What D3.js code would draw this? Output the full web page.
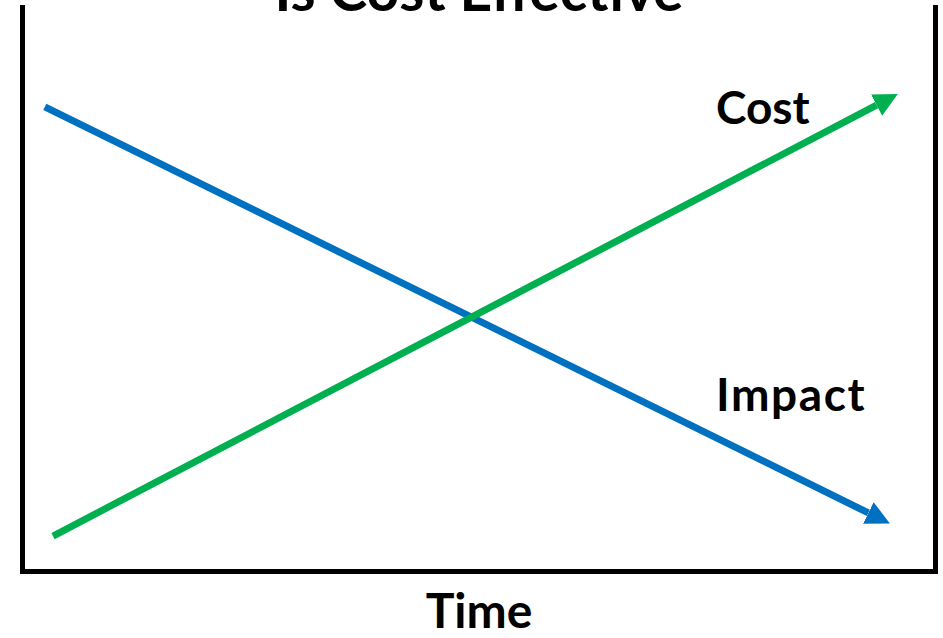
<!DOCTYPE html>
<html><head><meta charset="utf-8">
<script src="https://cdn.jsdelivr.net/npm/d3@7"></script>
<style>
html,body{margin:0;padding:0;background:#fff;}
text{font-family:Lato,"Open Sans",sans-serif;font-weight:bold;fill:#000;}
</style></head>
<body><svg id="c" width="943" height="638"></svg>
<script>
// Data (conceptual scale 0-100 on both axes)
const seriesNames = ["Impact", "Cost"];
const impactTime = [2.5, 92.7];
const impactValue = [82.3, 10.3];
const costTime = [3.4, 93.6];
const costValue = [6.2, 82.6];
const seriesColors = ["#0070C0", "#00B050"];
const titleText = "Is Cost Effective";
const xLabel = "Time";

const W = 943, H = 638;
const m = {left: 22, right: 8, top: 7, bottom: 67};
const svg = d3.select("#c");
const x = d3.scaleLinear().domain([0, 100]).range([m.left, W - m.right]);
const y = d3.scaleLinear().domain([0, 100]).range([H - m.bottom, m.top]);

// Axes (open box: left, right, bottom)
const axStyle = g => {
  g.selectAll(".tick").remove();
  g.select(".domain").attr("stroke", "#000").attr("stroke-width", 5).attr("stroke-linecap", "square");
};
svg.append("g").attr("transform", `translate(${x(0)},0)`).call(d3.axisLeft(y).tickValues([]).tickSizeOuter(0)).call(axStyle);
svg.append("g").attr("transform", `translate(${x(100)},0)`).call(d3.axisRight(y).tickValues([]).tickSizeOuter(0)).call(axStyle);
svg.append("g").attr("transform", `translate(0,${y(0)})`).call(d3.axisBottom(x).tickValues([]).tickSizeOuter(0)).call(axStyle);

// Arrow markers
const defs = svg.append("defs");
seriesColors.forEach((c, i) => {
  defs.append("marker").attr("id", "arr" + i)
    .attr("markerUnits", "userSpaceOnUse")
    .attr("viewBox", "0 -12 24 24")
    .attr("refX", 0).attr("refY", 0)
    .attr("markerWidth", 24).attr("markerHeight", 24)
    .attr("orient", "auto")
    .append("path").attr("d", "M0,-12L24,0L0,12Z").attr("fill", c);
});

const line = d3.line().x(d => x(d[0])).y(d => y(d[1]));
const data = [d3.zip(impactTime, impactValue), d3.zip(costTime, costValue)];
data.forEach((d, i) => {
  svg.append("path").datum(d).attr("d", line)
    .attr("fill", "none").attr("stroke", seriesColors[i])
    .attr("stroke-width", 7)
    .attr("marker-end", `url(#arr${i})`);
});

// Labels
svg.append("text").attr("x", 716).attr("y", 124).attr("font-size", 46).text(seriesNames[1]);
svg.append("text").attr("x", 716).attr("y", 411).attr("font-size", 46).attr("letter-spacing", 1.6).text(seriesNames[0]);
svg.append("text").attr("x", 479).attr("y", 628).attr("text-anchor", "middle").attr("font-size", 48).text(xLabel);
svg.append("text").attr("x", 479).attr("y", 11).attr("text-anchor", "middle").attr("font-size", 57).text(titleText);
</script></body></html>
